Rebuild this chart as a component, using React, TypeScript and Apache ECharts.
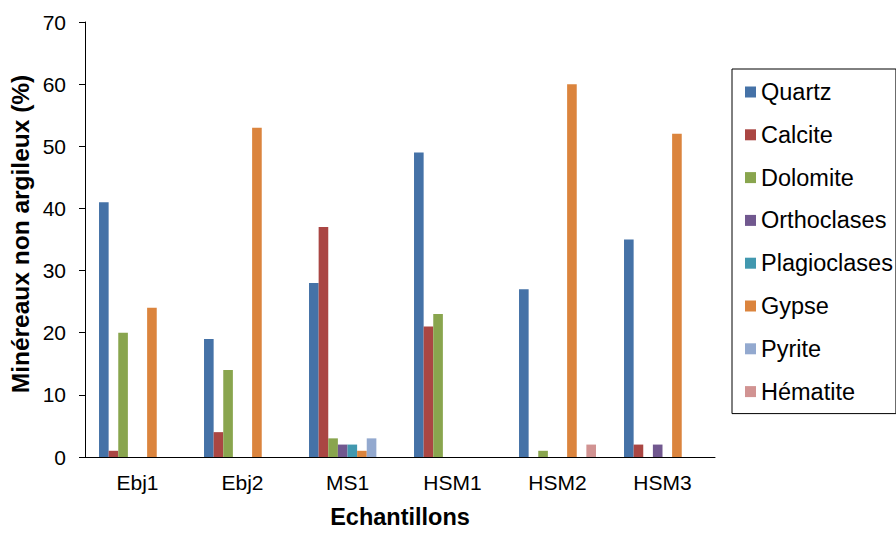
import React, { useEffect, useRef } from "react";
import * as echarts from "echarts";

const categories = ["Ebj1", "Ebj2", "MS1", "HSM1", "HSM2", "HSM3"];
const seriesNames = ["Quartz", "Calcite", "Dolomite", "Orthoclases", "Plagioclases", "Gypse", "Pyrite", "Hématite"];
const quartz = [41, 19, 28, 49, 27, 35];
const calcite = [1, 4, 37, 21, 0, 2];
const dolomite = [20, 14, 3, 23, 1, 0];
const orthoclases = [0, 0, 2, 0, 0, 2];
const plagioclases = [0, 0, 2, 0, 0, 0];
const gypse = [24, 53, 1, 0, 60, 52];
const pyrite = [0, 0, 3, 0, 0, 0];
const hematite = [0, 0, 0, 0, 2, 0];
const seriesValues = [quartz, calcite, dolomite, orthoclases, plagioclases, gypse, pyrite, hematite];
const colors = ["#4572A7", "#AA4643", "#89A54E", "#71588F", "#4198AF", "#DB843D", "#93A9CF", "#D19392"];
const yTicks = { min: 0, max: 70, interval: 10 };
const yTitle = "Minéreaux non argileux (%)";
const xTitle = "Echantillons";

const FONT = "'Liberation Sans', Arial, sans-serif";

export default function App() {
  const ref = useRef<HTMLDivElement>(null);
  useEffect(() => {
    if (!ref.current) return;
    const chart = echarts.init(ref.current, undefined, { renderer: "svg" });
    chart.setOption({
      animation: false,
      color: colors,
      textStyle: { fontFamily: FONT, color: "#000" },
      grid: { left: 85, right: 181, top: 22, bottom: 72, containLabel: false },
      legend: {
        orient: "vertical",
        left: 732,
        top: 69,
        padding: [11, 3, 10, 13],
        itemGap: 18.8,
        itemWidth: 11,
        itemHeight: 11,
        borderColor: "#000",
        borderWidth: 1,
        icon: "rect",
        textStyle: { fontFamily: FONT, fontSize: 23.5, color: "#000" },
        data: seriesNames,
      },
      graphic: [
        {
          type: "text",
          x: 20,
          y: 234,
          rotation: Math.PI / 2,
          style: {
            text: yTitle,
            fontFamily: FONT,
            fontSize: 24.5,
            fontWeight: "bold",
            fill: "#000",
            align: "center",
            verticalAlign: "middle",
          },
        },
      ],
      xAxis: {
        type: "category",
        data: categories,
        name: xTitle,
        nameLocation: "middle",
        nameGap: 48,
        nameTextStyle: { fontFamily: FONT, fontSize: 23.5, fontWeight: "bold", color: "#000" },
        axisLine: { show: true, lineStyle: { color: "#000", width: 1 } },
        axisTick: { show: false },
        axisLabel: { fontFamily: FONT, fontSize: 21, color: "#000", margin: 15 },
        splitLine: { show: false },
      },
      yAxis: {
        type: "value",
        min: yTicks.min,
        max: yTicks.max,
        interval: yTicks.interval,
        axisLine: { show: true, lineStyle: { color: "#000", width: 1 } },
        axisTick: { show: true, inside: false, length: 6, lineStyle: { color: "#000" } },
        axisLabel: { fontFamily: FONT, fontSize: 21, color: "#000", margin: 19 },
        splitLine: { show: false },
      },
      series: seriesNames.map((name, i) => ({
        name,
        type: "bar",
        data: seriesValues[i],
        barGap: "0%",
        barCategoryGap: "26.7%",
        itemStyle: { color: colors[i] },
      })),
    });
    return () => chart.dispose();
  }, []);
  return <div ref={ref} style={{ width: 896, height: 534, position: "absolute", left: 0, top: 0 }} />;
}
